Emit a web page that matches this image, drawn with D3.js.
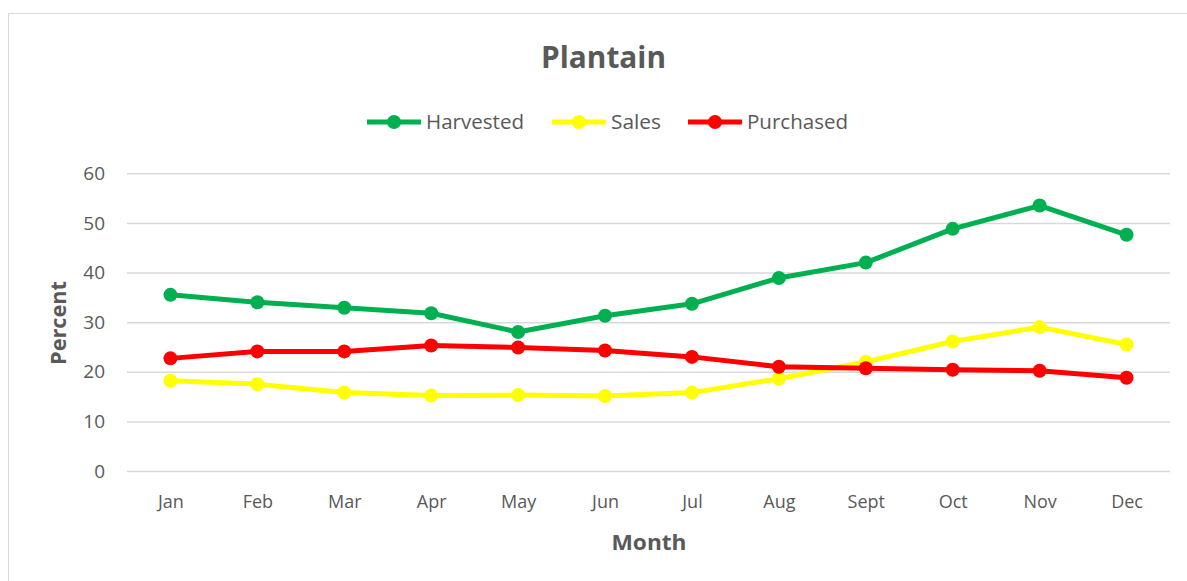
<!DOCTYPE html>
<html><head><meta charset="utf-8">
<script src="https://cdn.jsdelivr.net/npm/d3@7"></script>
<style>body{margin:0;background:#fff;} svg{display:block;}</style>
</head><body>
<svg id="c" width="1187" height="581"></svg>
<script>
const months = ["Jan","Feb","Mar","Apr","May","Jun","Jul","Aug","Sept","Oct","Nov","Dec"];
const harvested = [35.5,34.0,32.9,31.8,28.0,31.3,33.7,38.9,42.0,48.8,53.5,47.6];
const sales = [18.2,17.5,15.8,15.2,15.3,15.1,15.8,18.6,22.0,26.1,29.0,25.5];
const purchased = [22.7,24.1,24.1,25.3,24.9,24.3,23.0,21.0,20.7,20.4,20.2,18.8];
const yTicks = [0,10,20,30,40,50,60];
const seriesNames = ["Harvested","Sales","Purchased"];
const seriesColors = ["#00B050","#FFFF00","#FF0000"];
const series = [harvested, sales, purchased];

const font = "'Open Sans', sans-serif";
const svg = d3.select("#c");
const textCol = "#595959";

svg.append("rect").attr("x",8.5).attr("y",13.5).attr("width",1200).attr("height",600)
  .attr("fill","#fff").attr("stroke","#D9D9D9");

const x = d3.scalePoint().domain(months).range([127,1170]).padding(0.5);
const y = d3.scaleLinear().domain([0,60]).range([471,173.3]);

// gridlines
const yAxis = d3.axisLeft(y).tickValues(yTicks).tickSize(-(1170-127)).tickPadding(22);
const gy = svg.append("g").attr("transform","translate(127,0)").call(yAxis);
gy.select(".domain").remove();
gy.selectAll(".tick line").attr("stroke","#D9D9D9").attr("stroke-width",1.5);
gy.selectAll(".tick text").attr("fill",textCol).style("font-family",font).style("font-size","19px");

const xAxis = d3.axisBottom(x).tickSize(0).tickPadding(24);
const gx = svg.append("g").attr("transform","translate(0,471)").call(xAxis);
gx.select(".domain").remove();
gx.selectAll(".tick text").attr("fill",textCol).style("font-family",font).style("font-size","18px");

const line = d3.line().x((d,i)=>x(months[i])).y(d=>y(d));
series.forEach((s,k)=>{
  svg.append("path").datum(s).attr("d",line).attr("fill","none")
    .attr("stroke",seriesColors[k]).attr("stroke-width",5).attr("stroke-linejoin","round");
  svg.append("g").selectAll("circle").data(s).join("circle")
    .attr("cx",(d,i)=>x(months[i])).attr("cy",d=>y(d)).attr("r",7)
    .attr("fill",seriesColors[k]);
});

svg.append("text").attr("x",603.5).attr("y",68).attr("text-anchor","middle")
  .attr("fill",textCol).style("font-family",font).style("font-size","31px").style("font-weight","bold")
  .attr("textLength",125).attr("lengthAdjust","spacingAndGlyphs")
  .text("Plantain");

svg.append("text").attr("x",649).attr("y",550).attr("text-anchor","middle")
  .attr("fill",textCol).style("font-family",font).style("font-size","21px").style("font-weight","bold")
  .attr("textLength",75).attr("lengthAdjust","spacingAndGlyphs")
  .text("Month");
svg.append("text").attr("transform","translate(66,323) rotate(-90)").attr("text-anchor","middle")
  .attr("fill",textCol).style("font-family",font).style("font-size","21px").style("font-weight","bold")
  .attr("textLength",84).attr("lengthAdjust","spacingAndGlyphs")
  .text("Percent");

// legend
const legX = [367,552,688];
const legW = [98,50,101];
const lg = svg.append("g");
seriesNames.forEach((n,k)=>{
  const g = lg.append("g").attr("transform",`translate(${legX[k]},122)`);
  g.append("line").attr("x1",0).attr("x2",54).attr("y1",0).attr("y2",0)
    .attr("stroke",seriesColors[k]).attr("stroke-width",5);
  g.append("circle").attr("cx",27).attr("cy",0).attr("r",7).attr("fill",seriesColors[k]);
  g.append("text").attr("x",59).attr("y",7).attr("fill",textCol)
    .style("font-family",font).style("font-size","20px")
    .attr("textLength",legW[k]).attr("lengthAdjust","spacingAndGlyphs").text(n);
});
</script>
</body></html>
